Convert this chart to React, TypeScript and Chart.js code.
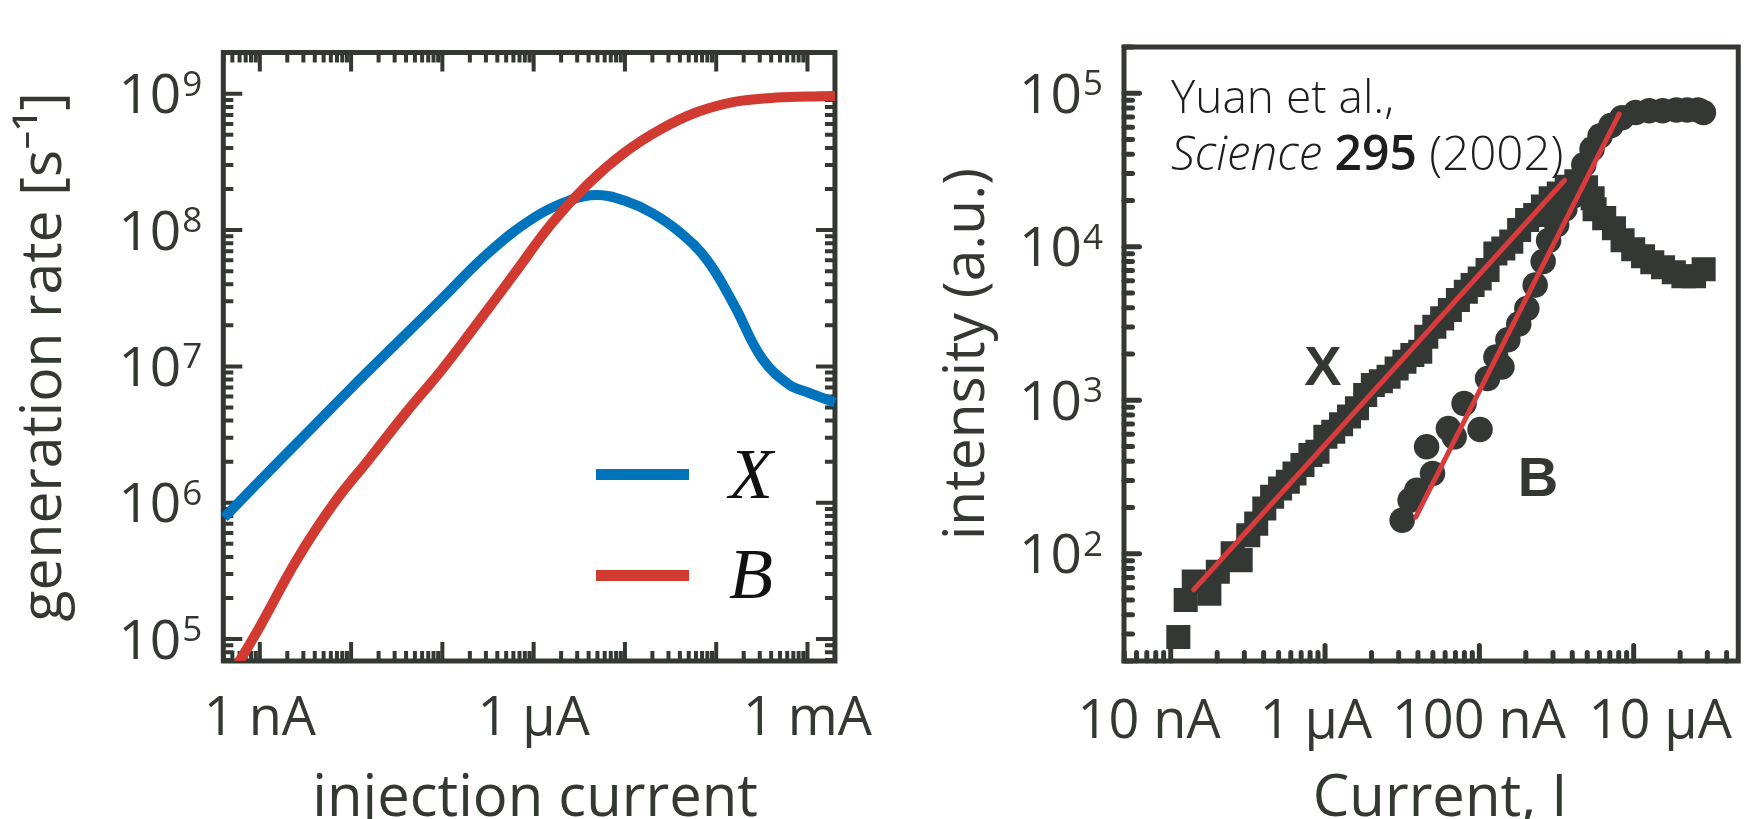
import React, { useEffect, useRef } from 'react';
import { Chart, registerables } from 'chart.js';

Chart.register(...registerables);

// ---------- Left panel: model generation rates ----------
const xModelCurrent = [4.07e-10, 1e-9, 3.16e-9, 1e-8, 3.16e-8, 1e-7, 3.16e-7, 1e-6, 2.51e-6, 5.01e-6, 1e-5, 2.0e-5, 3.98e-5, 7.94e-5, 1.58e-4, 3.16e-4, 6.31e-4, 1e-3, 2.0e-3];
const xModelRate = [7.78e5, 1.45e6, 3.16e6, 6.92e6, 1.48e7, 3.16e7, 6.76e7, 1.23e8, 1.66e8, 1.81e8, 1.64e8, 1.33e8, 9.66e7, 6.03e7, 2.80e7, 1.15e7, 7.33e6, 6.46e6, 5.43e6];
const bModelCurrent = [5.0e-10, 1e-9, 2.51e-9, 6.31e-9, 1.58e-8, 3.98e-8, 1e-7, 2.51e-7, 6.31e-7, 1.58e-6, 3.98e-6, 1e-5, 2.51e-5, 6.31e-5, 1.58e-4, 3.98e-4, 1e-3, 2.0e-3];
const bModelRate = [5.6e4, 1.23e5, 3.76e5, 9.66e5, 2.09e6, 4.57e6, 9.55e6, 2.14e7, 4.90e7, 1.12e8, 2.19e8, 3.72e8, 5.53e8, 7.38e8, 8.73e8, 9.33e8, 9.55e8, 9.62e8];

const leftXTickValues = [1e-9, 1e-6, 1e-3];
const leftXTickLabels = ['1 nA', '1 μA', '1 mA'];
const leftYTickValues = [1e5, 1e6, 1e7, 1e8, 1e9];
const leftYTickExponents = ['5', '6', '7', '8', '9'];

// ---------- Right panel: measured intensities (Yuan et al.) ----------
const xDataCurrent = [1.12e-8, 1.25e-8, 1.41e-8, 1.78e-8, 2.02e-8, 2.52e-8, 2.84e-8, 3.18e-8, 3.58e-8, 4.04e-8, 4.54e-8, 5.11e-8, 5.74e-8, 6.34e-8, 7.14e-8, 8.04e-8, 8.93e-8, 1.005e-7, 1.13e-7, 1.27e-7, 1.43e-7, 1.61e-7, 1.82e-7, 2.04e-7, 2.30e-7, 2.58e-7, 2.91e-7, 3.27e-7, 3.68e-7, 4.14e-7, 4.53e-7, 5.11e-7, 5.74e-7, 6.44e-7, 7.26e-7, 8.17e-7, 9.04e-7, 1.005e-6, 1.13e-6, 1.27e-6, 1.43e-6, 1.61e-6, 1.81e-6, 2.04e-6, 2.30e-6, 2.58e-6, 2.90e-6, 3.27e-6, 3.68e-6, 4.25e-6, 4.91e-6, 5.42e-6, 5.58e-6, 6.44e-6, 7.45e-6, 8.47e-6, 9.93e-6, 1.15e-5, 1.32e-5, 1.55e-5, 1.82e-5, 2.10e-5, 2.46e-5, 2.84e-5];
const xDataIntensity = [28.7, 49.9, 65.8, 54.8, 76.4, 100.5, 90.8, 132, 157, 197, 235, 266, 294, 333, 378, 440, 461, 578, 624, 698, 782, 885, 1081, 1256, 1330, 1422, 1611, 1782, 1968, 2070, 2594, 3013, 3412, 3873, 4498, 5093, 5623, 6209, 7047, 9036, 9750, 10790, 12850, 14930, 16110, 18240, 20650, 22230, 24600, 26730, 24430, 20700, 17540, 15350, 13210, 11020, 9638, 8670, 7925, 7345, 6823, 6427, 6427, 7129];
const bDataCurrent = [3.16e-7, 3.56e-7, 3.93e-7, 4.55e-7, 4.97e-7, 6.30e-7, 6.87e-7, 7.96e-7, 1.01e-6, 1.13e-6, 1.28e-6, 1.40e-6, 1.53e-6, 1.80e-6, 2.03e-6, 2.30e-6, 2.59e-6, 2.81e-6, 3.17e-6, 3.58e-6, 4.05e-6, 4.39e-6, 4.75e-6, 5.37e-6, 6.05e-6, 7.13e-6, 8.39e-6, 1.03e-5, 1.26e-5, 1.54e-5, 1.89e-5, 2.22e-5, 2.61e-5, 2.83e-5];
const bDataIntensity = [165, 223, 259, 497, 333, 655, 577, 953, 644, 1384, 1914, 1648, 2477, 3133, 3963, 5636, 8017, 10960, 13900, 17580, 21380, 27040, 34200, 43250, 52600, 61520, 69180, 74820, 76740, 76740, 77800, 77800, 77800, 74820];
const xFitCurrent = [1.41e-8, 3.57e-6];
const xFitIntensity = [58.2, 2.71e4];
const bFitCurrent = [3.87e-7, 8.05e-6];
const bFitIntensity = [173, 7.31e4];

const rightXTickValues = [7.24e-9, 8.72e-8, 9.93e-7, 1.485e-5];
const rightXTickLabels = ['10 nA', '1 μA', '100 nA', '10 μA'];
const rightYTickValues = [1e2, 1e3, 1e4, 1e5];
const rightYTickExponents = ['2', '3', '4', '5'];

// ---------- styles ----------
const FONT = "'Open Sans', 'Noto Sans', sans-serif";
const INK = '#333833';
const MARK = '#343834';
const BLUE = '#0073BD';
const RED = '#D13A30';
const FIT_RED = '#D93B3C';

function logTicks(min: number, max: number) {
  const out: { v: number; major: boolean }[] = [];
  const e0 = Math.floor(Math.log10(min));
  const e1 = Math.ceil(Math.log10(max));
  for (let e = e0; e <= e1; e++) {
    for (let m = 1; m <= 9; m++) {
      const v = m * Math.pow(10, e);
      if (v >= min * 0.9999 && v <= max * 1.0001) out.push({ v, major: m === 1 });
    }
  }
  return out;
}

// shift the scale's own title horizontally by dx pixels
function shiftTitle(dx: number) {
  return (s: any) => {
    if (s.__titleShifted) return;
    const orig = s.drawTitle;
    s.drawTitle = function (...args: any[]) {
      this.ctx.save();
      this.ctx.translate(dx, 0);
      orig.apply(this, args);
      this.ctx.restore();
    };
    s.__titleShifted = true;
  };
}

const axisFramePlugin = {
  id: 'axisFrame',
  beforeDatasetsDraw(chart: any, _args: any, o: any) {
    const { ctx, chartArea } = chart;
    const { left, right, top, bottom } = chartArea;
    const xs = chart.scales.x;
    const ys = chart.scales.y;
    ctx.save();
    ctx.strokeStyle = o.color;
    ctx.lineWidth = o.tickWidth;
    ctx.lineCap = o.lineCap;
    ctx.beginPath();
    for (const t of logTicks(xs.min, xs.max)) {
      const px = xs.getPixelForValue(t.v);
      const len = t.major ? o.majorLen : o.minorLen;
      ctx.moveTo(px, bottom);
      ctx.lineTo(px, bottom - len);
      if (o.mirror) {
        ctx.moveTo(px, top);
        ctx.lineTo(px, top + len);
      }
    }
    for (const t of logTicks(ys.min, ys.max)) {
      const py = ys.getPixelForValue(t.v);
      const len = t.major ? o.majorLen : o.minorLen;
      ctx.moveTo(left, py);
      ctx.lineTo(left + len, py);
      if (o.mirror) {
        ctx.moveTo(right, py);
        ctx.lineTo(right - len, py);
      }
    }
    ctx.stroke();
    ctx.lineWidth = o.frameWidth;
    ctx.lineCap = 'butt';
    ctx.lineJoin = 'miter';
    ctx.strokeRect(left, top, right - left, bottom - top);
    ctx.restore();
  },
};

// y tick labels "10" with a raised exponent, placed at the y scale's tick pixels
const powerLabelPlugin = {
  id: 'powerLabels',
  afterDraw(chart: any, _args: any, o: any) {
    if (!o || !o.values) return;
    const { ctx, chartArea } = chart;
    const ys = chart.scales.y;
    const xRight = chartArea.left - o.gap;
    ctx.save();
    ctx.fillStyle = o.color;
    ctx.textBaseline = 'alphabetic';
    o.values.forEach((v: number, i: number) => {
      const py = ys.getPixelForValue(v);
      const expFont = `${o.expSize}px ${FONT}`;
      const baseFont = `${o.baseSize}px ${FONT}`;
      ctx.font = expFont;
      const ew = ctx.measureText(o.exponents[i]).width;
      const expX = xRight - ew;
      ctx.font = baseFont;
      ctx.textAlign = 'right';
      ctx.fillText('10', expX + o.kern, py + o.baseSize * 0.357);
      ctx.font = expFont;
      ctx.textAlign = 'left';
      ctx.fillText(o.exponents[i], expX, py + o.expRaise);
    });
    ctx.restore();
  },
};

const inlineLegendPlugin = {
  id: 'inlineLegend',
  afterDatasetsDraw(chart: any, _args: any, o: any) {
    if (!o || !o.rows) return;
    const ctx = chart.ctx;
    ctx.save();
    o.rows.forEach((row: any) => {
      const ds = chart.data.datasets[row.dataset];
      ctx.strokeStyle = ds.borderColor;
      ctx.lineWidth = o.lineWidth;
      ctx.lineCap = 'butt';
      ctx.beginPath();
      ctx.moveTo(o.x0, row.y);
      ctx.lineTo(o.x1, row.y);
      ctx.stroke();
      ctx.fillStyle = '#111';
      ctx.font = o.font;
      ctx.textAlign = 'center';
      ctx.textBaseline = 'alphabetic';
      ctx.fillText(ds.label, o.textX, row.baseline);
    });
    ctx.restore();
  },
};

const annotationPlugin = {
  id: 'annotations',
  afterDatasetsDraw(chart: any, _args: any, o: any) {
    if (!o || !o.enabled) return;
    const ctx = chart.ctx;
    ctx.save();
    ctx.textAlign = 'left';
    ctx.textBaseline = 'alphabetic';
    ctx.fillStyle = '#1e1e1e';
    ctx.font = `300 46px ${FONT}`;
    ctx.fillText('Yuan et al.,', o.x, o.line1);
    let x = o.x;
    ctx.font = `italic 300 47.5px ${FONT}`;
    ctx.fillText('Science', x, o.line2);
    x += ctx.measureText('Science').width;
    ctx.font = `300 47.5px ${FONT}`;
    x += ctx.measureText(' ').width;
    ctx.font = `600 48px ${FONT}`;
    ctx.fillText('295', x, o.line2);
    x += ctx.measureText('295').width;
    ctx.font = `300 47.5px ${FONT}`;
    ctx.fillText(' (2002)', x, o.line2);
    ctx.fillStyle = INK;
    ctx.font = `bold 56px 'Liberation Sans', Arial, sans-serif`;
    ctx.textAlign = 'center';
    o.labels.forEach((l: any) => ctx.fillText(l.text, l.x, l.baseline));
    ctx.restore();
  },
};

function pts(xs: number[], ys: number[]) {
  return xs.map((x, i) => ({ x, y: ys[i] }));
}

const tickFont = { family: FONT, size: 54, lineHeight: 1.2 };
const xTitleFont = { family: FONT, size: 58, lineHeight: 1.2 };
const yTitleFont = { family: FONT, size: 57, lineHeight: 1.2 };
const powerLabelStyle = { color: INK, gap: 21, baseSize: 55, expSize: 35, expRaise: 2, kern: -1 };

function leftConfig(): any {
  return {
    type: 'line',
    data: {
      datasets: [
        { label: 'B', data: pts(bModelCurrent, bModelRate), borderColor: RED, backgroundColor: RED, borderWidth: 10, pointRadius: 0, tension: 0.4, fill: false, clip: { left: 6, top: 6, right: 6, bottom: 0 }, order: 0 },
        { label: 'X', data: pts(xModelCurrent, xModelRate), borderColor: BLUE, backgroundColor: BLUE, borderWidth: 10, pointRadius: 0, tension: 0.4, fill: false, clip: 6, order: 1 },
      ],
    },
    options: {
      animation: false,
      responsive: false,
      devicePixelRatio: 1,
      events: [],
      layout: { padding: { left: 0, top: 52.5, right: 44.5, bottom: 0 } },
      plugins: {
        legend: { display: false },
        tooltip: { enabled: false },
        axisFrame: { color: INK, tickWidth: 4, lineCap: 'butt', majorLen: 19, minorLen: 10, frameWidth: 5, mirror: true },
        powerLabels: { ...powerLabelStyle, values: leftYTickValues, exponents: leftYTickExponents },
        inlineLegend: {
          x0: 596, x1: 689, textX: 751, lineWidth: 11,
          font: `italic 72px 'Liberation Serif', 'DejaVu Serif', serif`,
          rows: [{ dataset: 1, y: 474.5, baseline: 498 }, { dataset: 0, y: 575.5, baseline: 598 }],
        },
      },
      scales: {
        x: {
          type: 'logarithmic', position: 'bottom', min: 3.98e-10, max: 2.0e-3,
          grid: { display: false, drawTicks: false }, border: { display: false },
          afterBuildTicks: (s: any) => { s.ticks = leftXTickValues.map((v) => ({ value: v })); },
          afterFit: (s: any) => { s.height = 158; },
          afterUpdate: shiftTitle(6),
          ticks: { autoSkip: false, maxRotation: 0, minRotation: 0, padding: 26, color: INK, font: tickFont, callback: (_v: any, i: number) => leftXTickLabels[i] },
          title: { display: true, text: 'injection current', color: INK, font: xTitleFont, padding: { top: 0, bottom: -15 } },
        },
        y: {
          type: 'logarithmic', position: 'left', min: 6.89e4, max: 2.01e9,
          grid: { display: false, drawTicks: false }, border: { display: false },
          afterFit: (s: any) => { s.width = 223.3; },
          ticks: { display: false },
          title: { display: true, text: 'generation rate [s⁻¹]', color: INK, font: yTitleFont, padding: { top: 10.4, bottom: 0 } },
        },
      },
    },
    plugins: [axisFramePlugin, powerLabelPlugin, inlineLegendPlugin],
  };
}

function rightConfig(): any {
  return {
    type: 'line',
    data: {
      datasets: [
        { label: 'X fit', data: pts(xFitCurrent, xFitIntensity), borderColor: FIT_RED, borderWidth: 5, pointRadius: 0, borderCapStyle: 'round', tension: 0, order: 0 },
        { label: 'B fit', data: pts(bFitCurrent, bFitIntensity), borderColor: FIT_RED, borderWidth: 5, pointRadius: 0, borderCapStyle: 'round', tension: 0, order: 0 },
        { label: 'B', data: pts(bDataCurrent, bDataIntensity), showLine: false, pointStyle: 'circle', pointRadius: 12.75, pointBorderWidth: 0, pointBackgroundColor: MARK, pointBorderColor: MARK, order: 1 },
        { label: 'X', data: pts(xDataCurrent, xDataIntensity), showLine: false, pointStyle: 'rect', pointRadius: 17, pointBorderWidth: 0, pointBackgroundColor: MARK, pointBorderColor: MARK, order: 2 },
      ],
    },
    options: {
      animation: false,
      responsive: false,
      devicePixelRatio: 1,
      events: [],
      layout: { padding: { left: 0, top: 47, right: 2, bottom: 0 } },
      plugins: {
        legend: { display: false },
        tooltip: { enabled: false },
        axisFrame: { color: INK, tickWidth: 5, lineCap: 'round', majorLen: 15.5, minorLen: 8.5, frameWidth: 5, mirror: false },
        powerLabels: { ...powerLabelStyle, values: rightYTickValues, exponents: rightYTickExponents },
        annotations: {
          enabled: true, x: 291, line1: 113, line2: 170,
          labels: [{ text: 'X', x: 443, baseline: 385 }, { text: 'B', x: 658, baseline: 496 }],
        },
      },
      scales: {
        x: {
          type: 'logarithmic', position: 'bottom', min: 4.98e-9, max: 4.76e-5,
          grid: { display: false, drawTicks: false }, border: { display: false },
          afterBuildTicks: (s: any) => { s.ticks = rightXTickValues.map((v) => ({ value: v })); },
          afterFit: (s: any) => { s.height = 158; },
          afterUpdate: shiftTitle(9),
          ticks: { autoSkip: false, maxRotation: 0, minRotation: 0, padding: 29, color: INK, font: tickFont, callback: (_v: any, i: number) => rightXTickLabels[i] },
          title: { display: true, text: 'Current, I', color: INK, font: xTitleFont, padding: { top: 0, bottom: -15 } },
        },
        y: {
          type: 'logarithmic', position: 'left', min: 20, max: 2.0e5,
          grid: { display: false, drawTicks: false }, border: { display: false },
          afterFit: (s: any) => { s.width = 244; },
          ticks: { display: false },
          title: { display: true, text: 'intensity (a.u.)', color: INK, font: yTitleFont, padding: { top: 53.4, bottom: 0 } },
        },
      },
    },
    plugins: [axisFramePlugin, powerLabelPlugin, annotationPlugin],
  };
}

export default function App() {
  const leftRef = useRef<HTMLCanvasElement>(null);
  const rightRef = useRef<HTMLCanvasElement>(null);
  useEffect(() => {
    const l = new Chart(leftRef.current as HTMLCanvasElement, leftConfig());
    const r = new Chart(rightRef.current as HTMLCanvasElement, rightConfig());
    return () => {
      l.destroy();
      r.destroy();
    };
  }, []);
  return (
    <div style={{ position: 'fixed', left: 0, top: 0, width: 1763, height: 819, background: '#fff', overflow: 'hidden' }}>
      <canvas ref={leftRef} width={900} height={819} style={{ position: 'absolute', left: 0, top: 0, width: 900, height: 819 }} />
      <canvas ref={rightRef} width={883} height={819} style={{ position: 'absolute', left: 880, top: 0, width: 883, height: 819 }} />
    </div>
  );
}
